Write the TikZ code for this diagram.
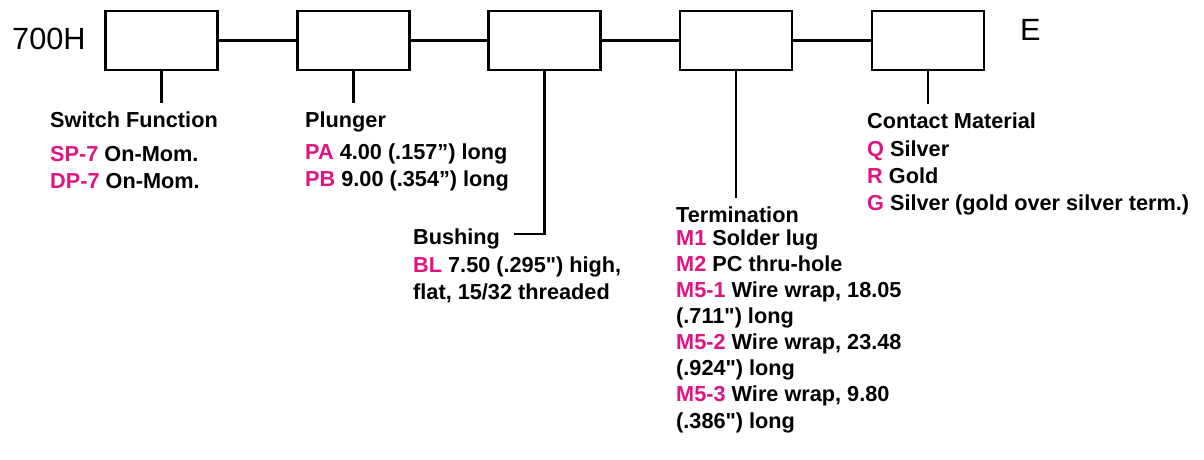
\documentclass[tikz,border=0pt]{standalone}
\usepackage{fontspec}
\setmainfont{Liberation Sans}
\definecolor{codepink}{RGB}{222,20,128}
\newcommand{\partcode}[1]{\textcolor{codepink}{#1}}
\tikzset{
    field/.style = {draw, line width = 2.8pt, minimum width = 112pt, minimum height = 59pt, inner sep = 0pt},
    heading/.style = {anchor = base west, inner sep = 0pt, outer ysep = 8.5pt, font = \fontsize{21.7}{26.4}\selectfont\bfseries},
    options/.style = {anchor = base west, align = left, inner sep = 0pt, font = \fontsize{21.7}{26.6}\selectfont\bfseries},
    big/.style = {anchor = base west, inner sep = 0pt, font = \fontsize{30.7}{36}\selectfont},
}
\begin{document}
\begin{tikzpicture}[x = 1pt, y = -1pt]
        \useasboundingbox (0, 0) rectangle (1204, 459);

        \node [big] (prefix) at (12, 49) {700H};
        \node [big] (suffix) at (1020, 40) {E};

        \path
            (161.5, 40.5) node [field] (function) {}
            (353.5, 40.5) node [field] (plunger) {}
            (544.5, 40.5) node [field] (bushing) {}
            (736, 40.5) node [field] (termination) {}
            (928, 40.5) node [field] (contact) {}
        ;
        \draw [line width = 2.2pt]
            (function) edge (plunger)
            (plunger) edge (bushing)
            (bushing) edge (termination)
            (termination) edge (contact)
        ;

        % lists sit on the baseline of their last line
        \node [heading] (functionhead) at (50, 127) {Switch Function};
        \node [options] (functionlist) at (50, 188.3)
            {\partcode{SP-7} On-Mom.\\ \partcode{DP-7} On-Mom.};

        \node [heading] (plungerhead) at (305, 127.7) {Plunger};
        \node [options] (plungerlist) at (305, 186.3)
            {\partcode{PA} 4.00 (.157'') long\\ \partcode{PB} 9.00 (.354'') long};

        \node [heading] (bushinghead) at (413, 244) {Bushing};
        \node [options] (bushinglist) at (413, 299)
            {\partcode{BL} 7.50 (.295\textquotedbl) high,\\ flat, 15/32 threaded};

        \node [heading] (terminationhead) at (676, 222) {Termination};
        \node [options, font = \fontsize{21.7}{26.1}\selectfont\bfseries] (terminationlist) at (676, 428)
            {\partcode{M1} Solder lug\\ \partcode{M2} PC thru-hole\\
             \partcode{M5-1} Wire wrap, 18.05\\ (.711\textquotedbl) long\\
             \partcode{M5-2} Wire wrap, 23.48\\ (.924\textquotedbl) long\\
             \partcode{M5-3} Wire wrap, 9.80\\ (.386\textquotedbl) long};

        \node [heading] (contacthead) at (867, 128) {Contact Material};
        \node [options, font = \fontsize{21.7}{27}\selectfont\bfseries] (contactlist) at (867, 210)
            {\partcode{Q} Silver\\ \partcode{R} Gold\\ \partcode{G} Silver (gold over silver term.)};

        % stems from the fields down to their headings
        \draw [line width = 2.2pt]
            (function.south) -- (function.south |- functionhead.north)
            (plunger.south) -- (plunger.south |- plungerhead.north)
            (bushing.south) |- ([xshift = 14pt, yshift = 4.4pt] bushinghead.east)
            (termination.south) -- (termination.south |- terminationhead.north)
            (contact.south) -- (contact.south |- contacthead.north)
        ;
    \end{tikzpicture}
\end{document}
